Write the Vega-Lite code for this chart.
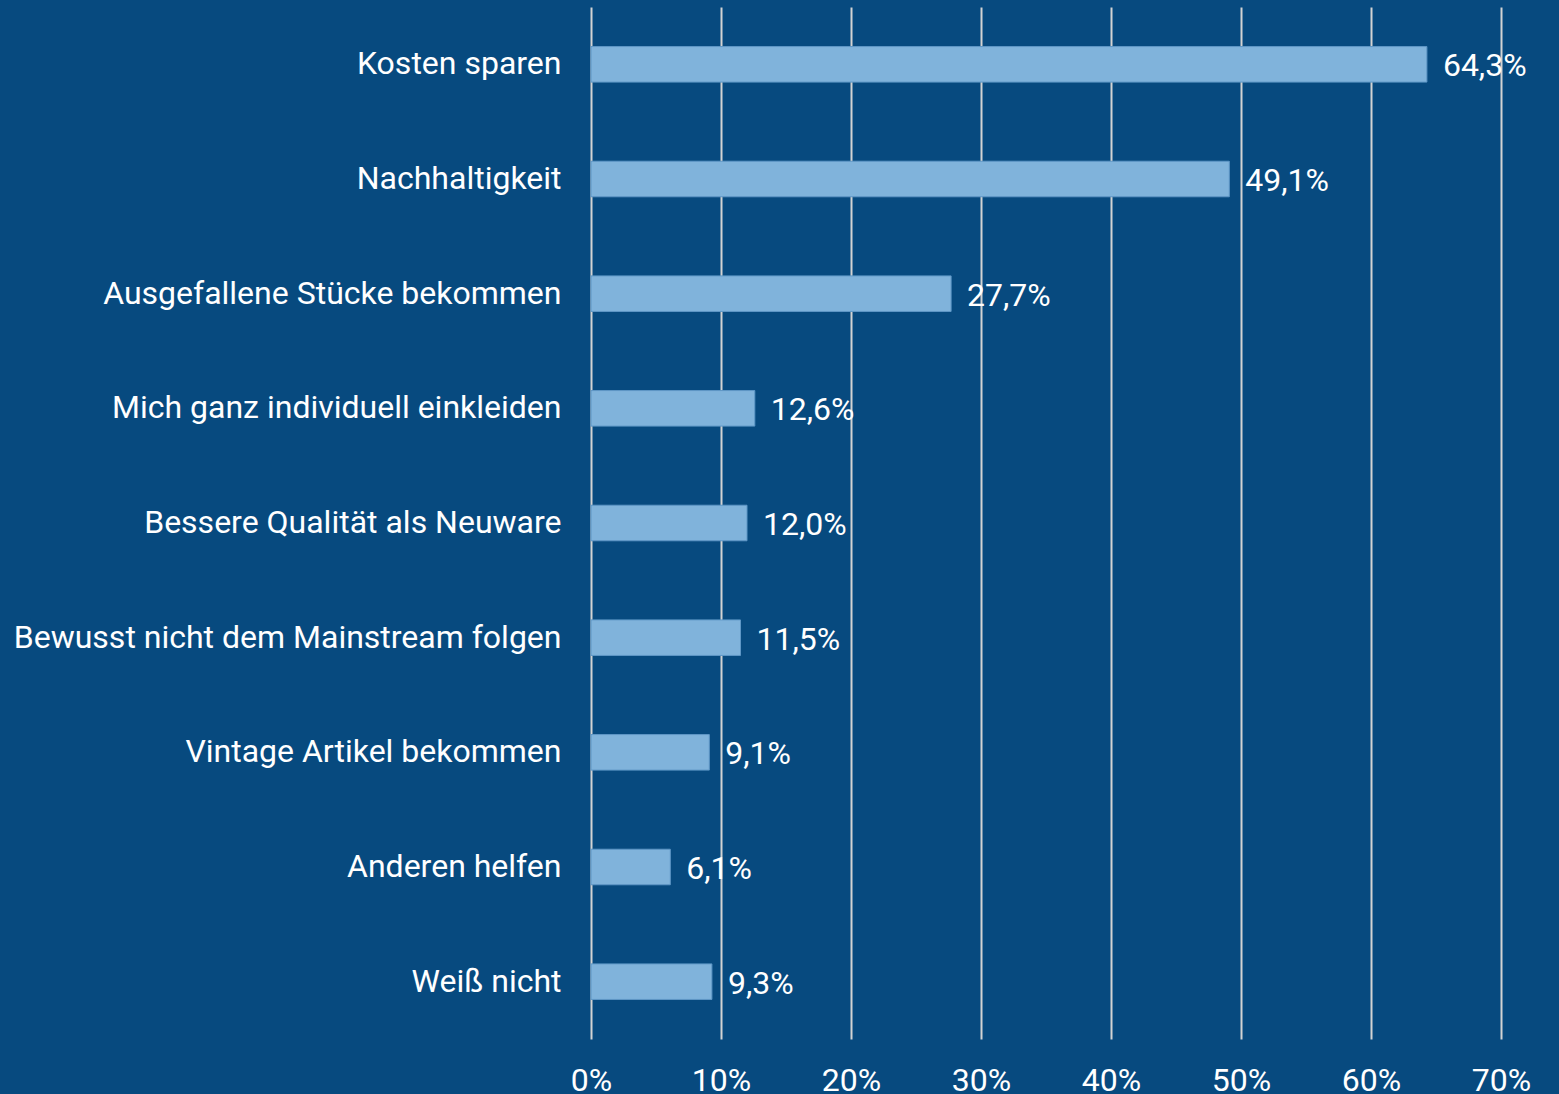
{
  "$schema": "https://vega.github.io/schema/vega-lite/v6.json",
  "autosize": {"type": "none"},
  "padding": {"left": 591, "top": 7, "right": 58, "bottom": 55},
  "width": 910,
  "height": 1032,
  "background": "#074A7F",
  "config": {
    "view": {"stroke": null},
    "locale": {"number": {"decimal": ",", "thousands": ".", "grouping": [3], "currency": ["", " €"]}},
    "font": "Roboto"
  },
  "data": {
    "values": [
      {"grund": "Kosten sparen", "anteil": 0.643},
      {"grund": "Nachhaltigkeit", "anteil": 0.491},
      {"grund": "Ausgefallene Stücke bekommen", "anteil": 0.277},
      {"grund": "Mich ganz individuell einkleiden", "anteil": 0.126},
      {"grund": "Bessere Qualität als Neuware", "anteil": 0.12},
      {"grund": "Bewusst nicht dem Mainstream folgen", "anteil": 0.115},
      {"grund": "Vintage Artikel bekommen", "anteil": 0.091},
      {"grund": "Anderen helfen", "anteil": 0.061},
      {"grund": "Weiß nicht", "anteil": 0.093}
    ]
  },
  "encoding": {
    "y": {
      "field": "grund",
      "type": "nominal",
      "sort": null,
      "scale": {"paddingInner": 0.69, "paddingOuter": 0.345},
      "axis": {
        "title": null,
        "domain": false,
        "ticks": false,
        "labelPadding": 30,
        "labelFontSize": 32,
        "labelColor": "#FFFFFF",
        "labelFont": "Roboto",
        "labelLimit": 700,
        "grid": false
      }
    },
    "x": {
      "field": "anteil",
      "type": "quantitative",
      "scale": {"domain": [0, 0.7], "nice": false},
      "axis": {
        "title": null,
        "orient": "bottom",
        "values": [0, 0.1, 0.2, 0.3, 0.4, 0.5, 0.6, 0.7],
        "format": ".0%",
        "domain": false,
        "ticks": false,
        "grid": true,
        "gridColor": "#D3D3D3",
        "gridWidth": 2,
        "gridOpacity": 1,
        "labelPadding": 41,
        "labelFontSize": 32,
        "labelColor": "#FFFFFF",
        "labelFont": "Roboto",
        "labelBaseline": "middle",
        "labelFlush": false
      }
    }
  },
  "layer": [
    {
      "mark": {"type": "bar", "color": "#80B3DB", "stroke": "#5F97C6", "strokeWidth": 1}
    },
    {
      "mark": {"type": "text", "align": "left", "baseline": "middle", "dx": 16, "dy": 2, "fontSize": 32, "color": "#FFFFFF", "font": "Roboto"},
      "encoding": {
        "text": {"field": "anteil", "type": "quantitative", "format": ".1%"}
      }
    }
  ]
}
